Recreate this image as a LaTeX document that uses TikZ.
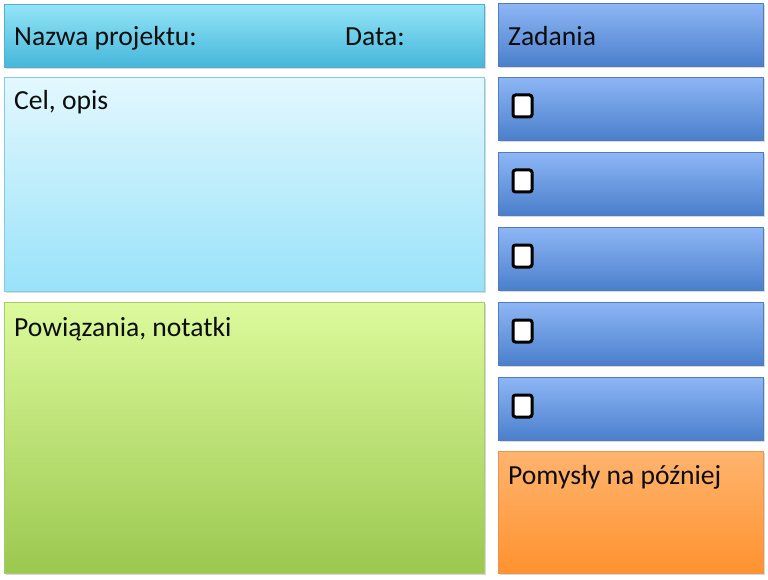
\documentclass[tikz,border=0pt]{standalone}
\usepackage{fontspec}
\setmainfont{Carlito}
\definecolor{hdrT}{HTML}{93E5F7}
\definecolor{hdrB}{HTML}{45B6DA}
\definecolor{hdrL}{HTML}{4FB0CF}
\definecolor{celT}{HTML}{E3F8FE}
\definecolor{celB}{HTML}{99E2F9}
\definecolor{celL}{HTML}{80CCE6}
\definecolor{grnT}{HTML}{DCFA9C}
\definecolor{grnB}{HTML}{9BC84F}
\definecolor{grnL}{HTML}{A6CC6E}
\definecolor{bluT}{HTML}{8EB6F6}
\definecolor{bluB}{HTML}{4A7FCB}
\definecolor{bluL}{HTML}{4F7DBD}
\definecolor{orgT}{HTML}{FFB46E}
\definecolor{orgB}{HTML}{FF922F}
\definecolor{orgL}{HTML}{E8964E}
\tikzset{
  panel/.style={anchor=north west, inner sep=0pt, line width=0.8pt, minimum width=#1},
  tall/.style={minimum height=#1},
  hdrbox/.style={panel=480pt, tall=63pt, draw=hdrL, top color=hdrT, bottom color=hdrB},
  celbox/.style={panel=480pt, tall=214pt, draw=celL, top color=celT, bottom color=celB},
  grnbox/.style={panel=480pt, tall=271pt, draw=grnL, top color=grnT, bottom color=grnB},
  blubox/.style={panel=265pt, tall=63pt, draw=bluL, top color=bluT, bottom color=bluB},
  orgbox/.style={panel=265pt, tall=122pt, draw=orgL, top color=orgT, bottom color=orgB},
  lbl/.style={anchor=base west, inner sep=0pt, font=\fontsize{27.6pt}{32pt}\selectfont, text=black!95},
  chk/.style={draw=black, line width=3pt, fill=white, rounded corners=2.5pt, minimum width=19pt, minimum height=22pt, inner sep=0pt, anchor=north west},
}
\begin{document}
\begin{tikzpicture}[x=1pt,y=-1pt]
\useasboundingbox (0,0) rectangle (768,580);
% shadows
\foreach \x/\y/\w/\h in {4/4/480/63, 4/77/480/214, 4/302/480/271, 498/3/265/63, 498/77/265/63, 498/152/265/63, 498/227/265/63, 498/302/265/63, 498/377/265/63, 498/451/265/122}
  \fill[black!15] (\x+1.5,\y+2) rectangle ++(\w,\h);
% left column
\node[hdrbox] (hdr) at (4,4) {};
\node[celbox] (cel) at (4,77) {};
\node[grnbox] (grn) at (4,302) {};
% right column
\node[blubox] (zad) at (498,3) {};
\node[blubox] (t1) at (498,77) {};
\node[blubox] (t2) at (498,152) {};
\node[blubox] (t3) at (498,227) {};
\node[blubox] (t4) at (498,302) {};
\node[blubox] (t5) at (498,377) {};
\node[orgbox] (org) at (498,451) {};
% checkboxes
\node[chk] (c1) at (511.5,93.5) {};
\node[chk] (c2) at (511.5,168.5) {};
\node[chk] (c3) at (511.5,243.5) {};
\node[chk] (c4) at (511.5,318.5) {};
\node[chk] (c5) at (511.5,393.5) {};
% labels
\node[lbl] (lnazwa) at (14,46) {Nazwa projektu:};
\node[lbl] (ldata) at (345,46) {Data:};
\node[lbl] (lzad) at (508,46) {Zadania};
\node[lbl] (lcel) at (14,110) {Cel, opis};
\node[lbl] (lpow) at (14,336) {Powiązania, notatki};
\node[lbl] (lpom) at (508,484) {Pomysły na później};
\end{tikzpicture}
\end{document}
